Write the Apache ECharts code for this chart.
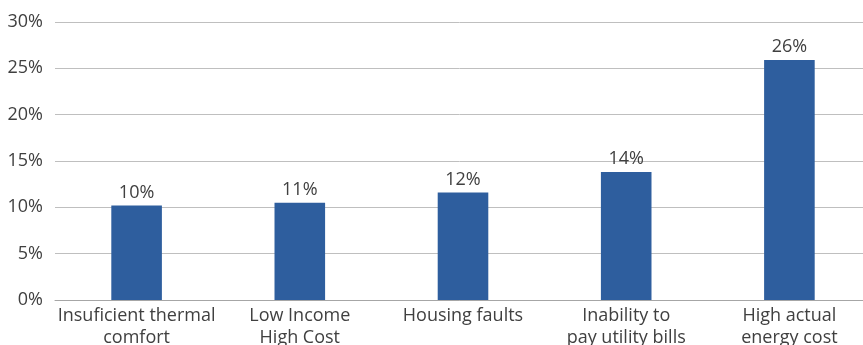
<!DOCTYPE html>
<html>
<head>
<meta charset="utf-8">
<style>
  html, body { margin: 0; padding: 0; background: #ffffff; }
  #chart { width: 863px; height: 345px; }
</style>
<script src="https://cdn.jsdelivr.net/npm/echarts@6/dist/echarts.min.js"></script>
</head>
<body>
<div id="chart"></div>
<script>
// Share of households affected, by indicator (percent)
const categories = [
  'Insuficient thermal\ncomfort',
  'Low Income\nHigh Cost',
  'Housing faults',
  'Inability to\npay utility bills',
  'High actual\nenergy cost'
];
const shares = [10.2, 10.5, 11.6, 13.8, 25.9];
const yTicks = [0, 5, 10, 15, 20, 25, 30];

const textColor = '#404040';
const fontFamily = '"Open Sans", sans-serif';
const fontSize = 18;

const chart = echarts.init(document.getElementById('chart'), null, { renderer: 'canvas' });
chart.setOption({
  animation: false,
  grid: {
    left: 55, width: 816, top: 22, bottom: 45,
    containLabel: false, outerBoundsMode: 'none'
  },
  xAxis: {
    type: 'category',
    data: categories,
    axisTick: { show: false },
    axisLine: { lineStyle: { color: '#a6a6a6', width: 1 } },
    axisLabel: {
      color: textColor, fontFamily: fontFamily, fontSize: fontSize,
      lineHeight: 22, margin: 5, interval: 0
    }
  },
  yAxis: {
    type: 'value',
    min: yTicks[0],
    max: yTicks[yTicks.length - 1],
    interval: yTicks[1] - yTicks[0],
    axisLine: { show: false },
    axisTick: { show: false },
    splitLine: { lineStyle: { color: '#bfbfbf', width: 1 } },
    axisLabel: {
      color: textColor, fontFamily: fontFamily, fontSize: fontSize, margin: 12,
      formatter: v => v + '%'
    }
  },
  series: [{
    type: 'bar',
    data: shares,
    barWidth: '31%',
    itemStyle: { color: '#2e5e9e' },
    label: {
      show: true,
      position: 'top',
      distance: 4,
      color: textColor, fontFamily: fontFamily, fontSize: fontSize,
      formatter: p => Math.round(p.value) + '%'
    }
  }]
});
</script>
</body>
</html>
